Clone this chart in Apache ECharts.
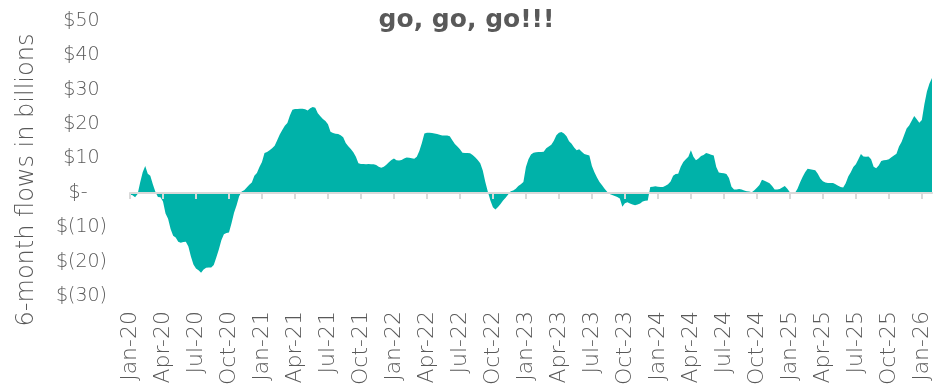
<!DOCTYPE html>
<html>
<head>
<meta charset="utf-8">
<script src="https://cdn.jsdelivr.net/npm/echarts@6/dist/echarts.min.js"></script>
<style>
  html, body { margin: 0; padding: 0; background: #ffffff; }
  #chart { width: 933px; height: 387px; }
</style>
</head>
<body>
<div id="chart"></div>
<script>
// Quarter tick labels (one every 13 weeks)
const quarterLabels = [
  'Jan-20', 'Apr-20', 'Jul-20', 'Oct-20',
  'Jan-21', 'Apr-21', 'Jul-21', 'Oct-21',
  'Jan-22', 'Apr-22', 'Jul-22', 'Oct-22',
  'Jan-23', 'Apr-23', 'Jul-23', 'Oct-23',
  'Jan-24', 'Apr-24', 'Jul-24', 'Oct-24',
  'Jan-25', 'Apr-25', 'Jul-25', 'Oct-25',
  'Jan-26'
];

// Rolling 6-month flows, $ billions, one value per week
const flows2020 = [
  -0.5, -0.7, -1.3, -0.3, 3.0, 6.0, 7.8, 5.6, 5.0, 2.5,
  0.3, -1.2, -1.3, -2.5, -6.0, -7.5, -10.5, -12.5, -13.0, -14.2,
  -14.5, -14.3, -14.2, -15.6, -18.5, -20.8, -22.0, -22.5, -23.2, -22.3,
  -21.8, -21.7, -21.7, -21.0, -18.8, -16.5, -13.8, -12.0, -11.7, -11.5,
  -8.8, -5.8, -3.6, -1.0, 0.4, 0.8, 1.6, 2.4, 3.0, 5.0,
  5.8, 7.5
];
const flows2021 = [
  9.0, 11.6, 11.9, 12.4, 13.0, 13.7, 15.3, 17.0,
  18.3, 19.5, 20.3, 22.5, 24.2, 24.4, 24.4, 24.5, 24.5, 24.3,
  24.0, 24.6, 25.0, 24.8, 23.2, 22.3, 21.5, 20.9, 20.0, 17.8,
  17.4, 17.2, 17.1, 16.8, 16.2, 14.5, 13.6, 12.8, 11.8, 10.5,
  8.6, 8.4, 8.4, 8.3, 8.4, 8.3, 8.3, 8.1, 7.6, 7.3,
  7.6, 8.2, 8.9, 9.6
];
const flows2022 = [
  10.0, 9.5, 9.4, 9.6, 10.0, 10.3,
  10.2, 10.1, 9.9, 10.5, 12.2, 14.5, 17.3, 17.5, 17.5, 17.4,
  17.3, 17.1, 16.9, 16.7, 16.7, 16.7, 16.5, 15.3, 14.2, 13.5,
  12.7, 11.7, 11.6, 11.6, 11.5, 11.0, 10.4, 9.6, 8.6, 6.5,
  3.2, 0.3, -2.2, -4.2, -4.8, -4.1, -3.2, -2.2, -1.4, -0.5,
  0.5, 0.7, 1.2, 2.0, 2.5, 3.2
];
const flows2023 = [
  7.5, 9.8, 11.2, 11.7,
  11.8, 11.9, 11.9, 12.0, 13.0, 13.5, 14.0, 15.2, 16.8, 17.5,
  17.7, 17.3, 16.5, 15.0, 14.3, 13.2, 12.4, 12.7, 12.0, 11.3,
  11.1, 10.9, 7.8, 6.0, 4.5, 3.2, 2.2, 1.2, 0.3, -0.3,
  -0.6, -0.9, -1.2, -1.6, -4.0, -3.0, -2.7, -3.1, -3.4, -3.6,
  -3.4, -3.1, -2.5, -2.3, -2.2, 1.7, 1.8, 1.9
];
const flows2024 = [
  1.8, 1.7,
  1.7, 2.1, 2.5, 3.3, 5.0, 5.5, 5.6, 7.6, 9.0, 9.8,
  10.5, 12.4, 10.5, 9.5, 10.0, 10.7, 11.0, 11.6, 11.4, 11.1,
  10.9, 7.5, 5.9, 5.8, 5.7, 5.5, 4.3, 1.8, 1.0, 1.0,
  1.1, 1.0, 0.7, 0.5, 0.4, 0.2, 0.8, 1.5, 2.3, 3.8,
  3.5, 3.2, 2.8, 2.0, 1.0, 1.0, 1.1, 1.6, 2.0, 1.2
];
const flows2025 = [
  0.2, 0.0, 0.0, 1.2, 3.0, 4.6, 6.0, 7.0, 6.9, 6.7,
  6.6, 5.6, 4.2, 3.4, 3.0, 2.9, 2.9, 2.9, 2.5, 2.1,
  1.7, 1.6, 2.8, 4.8, 6.0, 7.5, 8.3, 9.8, 11.3, 10.6,
  10.5, 10.6, 9.8, 7.6, 7.2, 8.0, 9.3, 9.5, 9.6, 9.8,
  10.4, 10.9, 11.4, 13.5, 14.8, 16.8, 18.7, 19.6, 21.0, 22.4,
  21.4, 20.4
];
const flows2026 = [21.2, 25.8, 29.5, 31.8, 33.4];

const flows = [].concat(flows2020, flows2021, flows2022, flows2023, flows2024, flows2025, flows2026);
const weeks = flows.map((_, i) => i);
const WEEKS_PER_QUARTER = 13;

const FONT = '"DejaVu Sans", Verdana, sans-serif';
const LIGHT = 200;
const TEXT_GRAY = '#595959';
const AXIS_GRAY = '#D9D9D9';
const TEAL = '#00B2A9';

// Accounting-style dollar labels: $50, $-, $(10)
function dollarLabel(v) {
  if (v === 0) return '{t|$-}{pad|0)}';
  if (v < 0) return '{t|$(' + (-v) + ')}';
  return '{t|$' + v + '}{pad|)}';
}

const chart = echarts.init(document.getElementById('chart'), null, { renderer: 'canvas' });

chart.setOption({
  animation: false,
  backgroundColor: '#ffffff',
  title: {
    text: 'go, go, go!!!',
    left: 'center',
    top: 3,
    textStyle: { fontFamily: FONT, fontSize: 25, fontWeight: 'bold', color: TEXT_GRAY }
  },
  graphic: [{
    type: 'text',
    x: 27,
    y: 180,
    rotation: Math.PI / 2,
    style: {
      text: '6-month flows in billions',
      fontFamily: FONT,
      fontSize: 24,
      fontWeight: LIGHT,
      fill: TEXT_GRAY,
      align: 'center',
      verticalAlign: 'middle',
      textAlign: 'center',
      textVerticalAlign: 'middle'
    }
  }],
  grid: { left: 130, right: 1, top: 21, bottom: 91, outerBoundsMode: 'none', containLabel: false },
  xAxis: [
    {
      // Quarter labels along the bottom
      type: 'category',
      data: weeks,
      boundaryGap: false,
      position: 'bottom',
      axisLine: { show: false, onZero: false },
      axisTick: { show: false },
      axisLabel: {
        interval: WEEKS_PER_QUARTER - 1,
        rotate: 90,
        margin: 15,
        fontFamily: FONT,
        fontSize: 22,
        fontWeight: LIGHT,
        color: TEXT_GRAY,
        formatter: (v, i) => quarterLabels[i / WEEKS_PER_QUARTER] || ''
      }
    },
    {
      // Zero baseline with quarter ticks
      type: 'category',
      data: weeks,
      boundaryGap: false,
      position: 'top',
      z: 5,
      axisLine: { show: true, onZero: true, lineStyle: { color: AXIS_GRAY, width: 2 } },
      axisTick: {
        show: true,
        inside: true,
        interval: WEEKS_PER_QUARTER - 1,
        length: 6,
        lineStyle: { color: AXIS_GRAY, width: 2 }
      },
      axisLabel: { show: false }
    }
  ],
  yAxis: {
    type: 'value',
    min: -30,
    max: 50,
    interval: 10,
    axisLine: { show: false },
    axisTick: { show: false },
    splitLine: { show: false },
    axisLabel: {
      margin: 23,
      formatter: dollarLabel,
      rich: {
        t: { fontFamily: FONT, fontSize: 19, fontWeight: LIGHT, color: TEXT_GRAY },
        pad: { fontFamily: FONT, fontSize: 19, fontWeight: LIGHT, color: 'rgba(0,0,0,0)' }
      }
    }
  },
  series: [{
    type: 'line',
    data: flows,
    xAxisIndex: 0,
    showSymbol: false,
    symbol: 'none',
    lineStyle: { width: 0 },
    areaStyle: { color: TEAL, opacity: 1 },
    z: 2
  }]
});
</script>
</body>
</html>
